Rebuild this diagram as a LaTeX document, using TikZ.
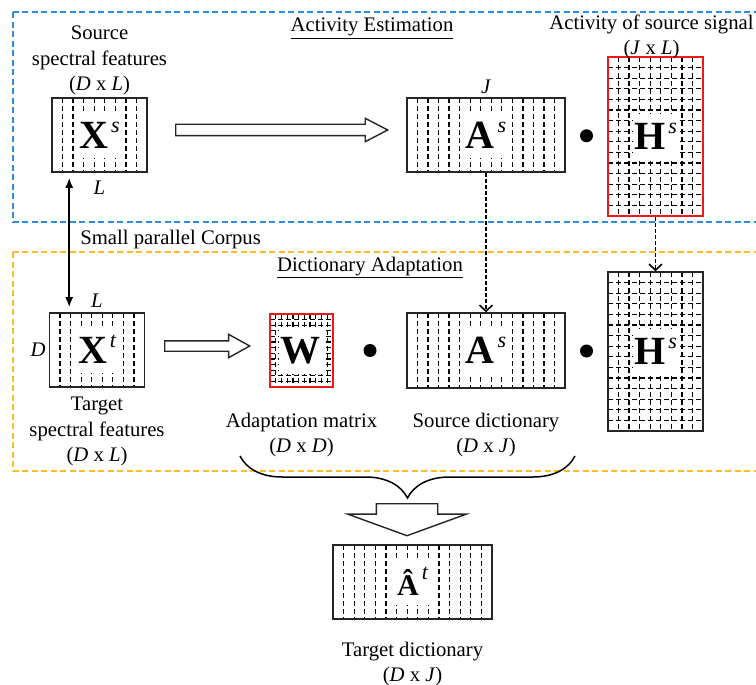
\documentclass[tikz,border=0pt]{standalone}
\usepackage{fontspec}
\setmainfont{Liberation Serif}
\usetikzlibrary{calc,arrows.meta,shapes.arrows,decorations.pathreplacing}

\definecolor{estblue}{RGB}{45,140,225}
\definecolor{adaptyellow}{RGB}{250,190,35}
\definecolor{matred}{RGB}{240,25,25}

\newcommand{\matsym}[2]{{\setlength{\fboxsep}{1pt}\colorbox{white}{\rule[-9pt]{0pt}{44pt}\fontsize{40}{40}\selectfont\bfseries #1\hspace{3pt}\raisebox{16pt}{\fontsize{22}{22}\selectfont\mdseries\itshape #2}}}}

\begin{document}
\begin{tikzpicture}[x=1pt,y=-1pt,
                    every node/.style={font=\fontsize{20.7}{25.5}\selectfont},
                    every label/.style={inner sep=0pt,align=center},
                    frame/.style={line width=2pt,dash pattern=on 6pt off 3.5pt},
                    matbox/.style={draw=black!85,line width=1.6pt,inner sep=0pt,fill=white},
                    dashline/.style={black,line width=1.3pt,dash pattern=on 5pt off 3pt},
                    vlines/.style={path picture={
                        \foreach \k in {1,...,#1}{
                            \pgfmathsetmacro\f{\k/(#1+1)}
                            \draw[dashline] ($(path picture bounding box.north west)!\f!(path picture bounding box.north east)$)
                                         -- ($(path picture bounding box.south west)!\f!(path picture bounding box.south east)$);}}},
                    meshlines/.style 2 args={path picture={
                        \foreach \k in {1,...,#1}{
                            \pgfmathsetmacro\f{\k/(#1+1)}
                            \draw[dashline] ($(path picture bounding box.north west)!\f!(path picture bounding box.north east)$)
                                         -- ($(path picture bounding box.south west)!\f!(path picture bounding box.south east)$);}
                        \foreach \k in {1,...,#2}{
                            \pgfmathsetmacro\f{\k/(#2+1)}
                            \draw[dashline] ($(path picture bounding box.north west)!\f!(path picture bounding box.south west)$)
                                         -- ($(path picture bounding box.north east)!\f!(path picture bounding box.south east)$);}}},
                    bigarrow/.style={single arrow,draw=black!85,line width=1.4pt,fill=white,inner xsep=0pt,anchor=tail},
                    dotmark/.style={circle,fill=black,inner sep=0pt,minimum size=13pt},
                    dasharrow/.style={line width=1.6pt,dash pattern=on 4pt off 2pt,-{Straight Barb[length=6pt,width=13pt]}},
                    corpusarrow/.style={line width=1.6pt,{Latex[length=10pt,width=8pt]}-{Latex[length=10pt,width=8pt]},
                                        shorten <=5pt,shorten >=5pt}]

    \useasboundingbox (0,0) rectangle (756,685);
    \clip (0,0) rectangle (756,685);

    \draw[frame,estblue] (13,12.5) rectangle (780,222);
    \draw[frame,adaptyellow] (13,252) rectangle (780,471);

    \node[anchor=base] (esttitle) at (372,32) {\underline{Activity Estimation}};
    \node[anchor=base] (adapttitle) at (370,271) {\underline{Dictionary Adaptation}};

    \node[matbox,vlines=8,minimum width=95pt,minimum height=74pt,
          label={[label distance=2pt]above:Source\\spectral features\\(\textit{D} x \textit{L})},
          label={[label distance=8pt]below:\textit{L}}] (xs) at (99.5,135) {\matsym{X}{s}};
    \node[matbox,vlines=14,minimum width=158pt,minimum height=74pt,
          label={[label distance=3pt]above:\textit{J}}] (as1) at (486,135) {\matsym{A}{s}};
    \node[matbox,draw=matred,meshlines={8}{14},minimum width=95pt,minimum height=159pt,
          label={[label distance=-3pt,xshift=-4pt]above:Activity of source signal\\(\textit{J} x \textit{L})}] (hs1) at (655.5,136.5) {\matsym{H}{s}};

    \node[matbox,vlines=8,minimum width=95pt,minimum height=74pt,
          label={[label distance=5pt]above:\textit{L}},
          label={[label distance=3pt]left:\textit{D}},
          label={[label distance=9pt]below:Target\\spectral features\\(\textit{D} x \textit{L})}] (xt) at (97,350) {\matsym{X}{t}};
    \node[matbox,draw=matred,meshlines={10}{12},minimum width=63pt,minimum height=73pt,
          label={[label distance=25pt]below:Adaptation matrix\\(\textit{D} x \textit{D})}] (w) at (301.5,350.5) {\matsym{W}{}};
    \node[matbox,vlines=14,minimum width=158pt,minimum height=75pt,
          label={[label distance=24pt]below:Source dictionary\\(\textit{D} x \textit{J})}] (as2) at (486,350.5) {\matsym{A}{s}};
    \node[matbox,meshlines={8}{14},minimum width=95pt,minimum height=159pt] (hs2) at (655.5,351.5) {\matsym{H}{s}};

    \node[matbox,vlines=14,minimum width=159pt,minimum height=74pt,
          label={[label distance=22pt]below:Target dictionary\\(\textit{D} x \textit{J})}] (at) at (412.5,582) {\matsym{\fontsize{30}{30}\selectfont\^{A}}{t}};

    \node[dotmark] (dot1) at ($(as1.east)!.5!(hs1.west)$) {};
    \node[dotmark] (dot2) at ($(w.east)!.5!(as2.west)$) {};
    \node[dotmark] (dot3) at ($(as2.east)!.5!(hs2.west)$) {};

    \node[bigarrow,inner ysep=5pt,single arrow head extend=6pt,single arrow tip angle=55,
          minimum height=212pt] (ar1) at (175,130) {};
    \node[bigarrow,inner ysep=4.5pt,single arrow head extend=6.5pt,single arrow tip angle=58,
          minimum height=85pt] (ar2) at (164,346) {};
    \node[bigarrow,rotate=270,inner ysep=30pt,single arrow head extend=28.5pt,
          single arrow tip angle=140,minimum height=32pt] (ar3) at (407,503) {};

    \draw[dasharrow] (as1.south) -- (as2.north);
    \draw[dasharrow] (hs1.south) -- (hs2.north);

    \draw[corpusarrow] ([xshift=18pt]xs.south west) -- node[midway,anchor=base west,xshift=7pt,yshift=-2pt] (corpus) {Small parallel Corpus}
                       ([xshift=18pt]xs.south west |- xt.north);

    \coordinate (bl) at (240,456);
    \coordinate (br) at (575,456);
    \draw[line width=1.5pt,decorate,decoration={brace,amplitude=42pt,mirror}] (bl) -- (br);
\end{tikzpicture}
\end{document}
